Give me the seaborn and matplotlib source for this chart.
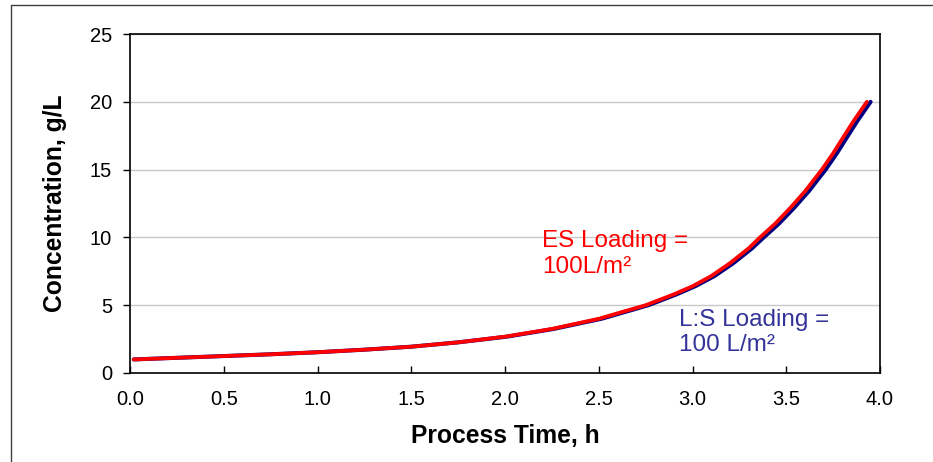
import pandas as pd
import numpy as np
import matplotlib
matplotlib.use("Agg")
import matplotlib.pyplot as plt
from matplotlib.lines import Line2D
import seaborn as sns

# values
time_es = [0.02, 0.25, 0.5, 0.75, 1.0, 1.25, 1.5, 1.75, 2.0, 2.25, 2.5, 2.75,
           2.9, 3.0, 3.1, 3.2, 3.3, 3.36, 3.44, 3.52, 3.6, 3.69, 3.75, 3.8, 3.86, 3.93]
conc_es = [1.00, 1.12, 1.25, 1.38, 1.53, 1.72, 1.94, 2.26, 2.68, 3.25, 4.0, 5.0,
           5.8, 6.4, 7.15, 8.1, 9.2, 10.0, 11.0, 12.15, 13.4, 15.0, 16.2, 17.3, 18.6, 20.0]

time_ls = [0.02, 0.25, 0.5, 0.75, 1.0, 1.25, 1.5, 1.75, 2.01, 2.26, 2.515, 2.765,
           2.915, 3.015, 3.117, 3.218, 3.318, 3.38, 3.46, 3.54, 3.62, 3.71, 3.77, 3.82, 3.88, 3.95]
conc_ls = [1.00, 1.12, 1.25, 1.38, 1.53, 1.72, 1.94, 2.26, 2.68, 3.25, 4.0, 5.0,
           5.8, 6.4, 7.15, 8.1, 9.2, 10.0, 11.0, 12.15, 13.4, 15.0, 16.2, 17.3, 18.6, 20.0]

x_ticks = [0.0, 0.5, 1.0, 1.5, 2.0, 2.5, 3.0, 3.5, 4.0]
y_ticks = [0, 5, 10, 15, 20, 25]

df_es = pd.DataFrame({'time': time_es, 'conc': conc_es})
df_ls = pd.DataFrame({'time': time_ls, 'conc': conc_ls})

sns.set_style("white", {'text.color': 'black', 'axes.labelcolor': 'black',
                        'xtick.color': 'black', 'ytick.color': 'black'})
plt.rcParams['font.family'] = ['Liberation Sans', 'DejaVu Sans']

fig = plt.figure(figsize=(9.33, 4.62), dpi=100)
ax = fig.add_axes([130/933, 1-373/462, 750/933, 339/462])

sns.lineplot(data=df_ls, x='time', y='conc', ax=ax, color='#000080', lw=2.9, sort=False)
sns.lineplot(data=df_es, x='time', y='conc', ax=ax, color='#FF0000', lw=2.7, sort=False)

ax.set_xlim(0, 4)
ax.set_ylim(0, 25)
ax.set_xticks(x_ticks)
ax.set_xticklabels([f'{v:.1f}' for v in x_ticks])
ax.set_yticks(y_ticks)
ax.set_yticklabels([str(v) for v in y_ticks])

ax.yaxis.grid(True, color='#C8C8C8', lw=1)
ax.xaxis.grid(False)
ax.set_axisbelow(True)

for s in ax.spines.values():
    s.set_visible(True)
    s.set_color('black')
    s.set_linewidth(1.2)

size_font = 14.5
ax.tick_params(axis='x', direction='in', length=5, width=1, labelsize=size_font, pad=12,
               bottom=True, colors='black')
ax.tick_params(axis='y', direction='out', length=5, width=1, labelsize=size_font, pad=8,
               left=True, colors='black')

ax.set_xlabel("Process Time, h", fontsize=17.7, fontweight='bold', labelpad=11, color='black')
ax.set_ylabel("Concentration, g/L", fontsize=17.7, fontweight='bold', labelpad=16, color='black')

ax.text(2.2, 8.78, "ES Loading =\n100L/m\u00b2", color='#FF0000', fontsize=17.5,
        va='center', ha='left', linespacing=1.2)
ax.text(2.93, 3.0, "L:S Loading =\n100 L/m\u00b2", color='#333399', fontsize=17.5,
        va='center', ha='left', linespacing=1.2)

# outer frame of the original figure (cut off on right and bottom)
fig.add_artist(Line2D([10.5/933, 1.0], [1-4.5/462, 1-4.5/462], color='#404040', lw=1))
fig.add_artist(Line2D([10.5/933, 10.5/933], [0.0, 1-4.5/462], color='#404040', lw=1))

fig.savefig('out.png', dpi=100)
